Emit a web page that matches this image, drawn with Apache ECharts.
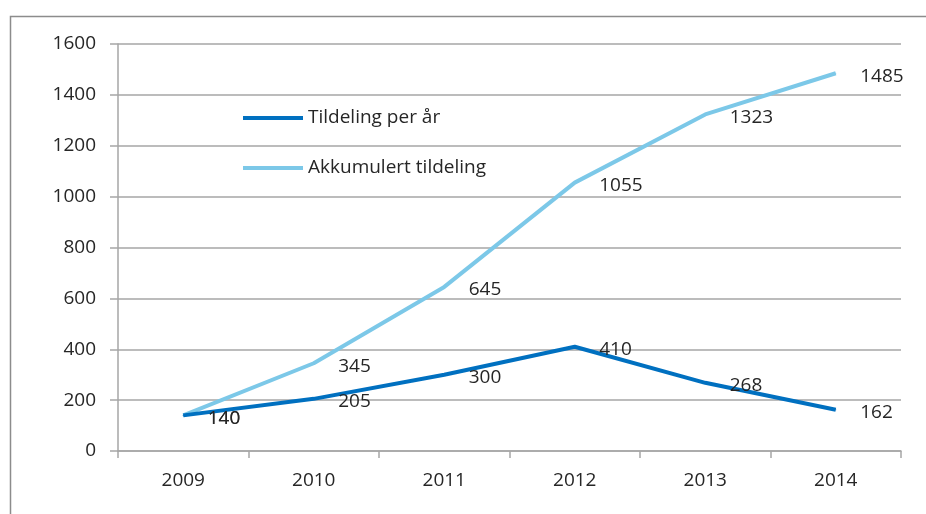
<!DOCTYPE html>
<html>
<head>
<meta charset="utf-8">
<script src="https://cdn.jsdelivr.net/npm/echarts@6/dist/echarts.min.js"></script>
<style>
  html, body { margin: 0; padding: 0; background: #fff; }
  #chart { width: 926px; height: 514px; }
</style>
</head>
<body>
<div id="chart"></div>
<script>
// Data
const years = ['2009', '2010', '2011', '2012', '2013', '2014'];
const perYear = [140, 205, 300, 410, 268, 162];
const accumulated = [140, 345, 645, 1055, 1323, 1485];
const seriesNames = ['Tildeling per år', 'Akkumulert tildeling'];
const colors = ['#0070C0', '#7CC8E8'];

const FONT = '"Open Sans", sans-serif';
const TEXT = '#262626';
const GRID = '#A6A6A6';
const FS = 19;

const chart = echarts.init(document.getElementById('chart'));

function lineSeries(i, data) {
  return {
    name: seriesNames[i],
    type: 'line',
    data: data,
    symbol: 'circle',
    symbolSize: 1,
    showSymbol: true,
    itemStyle: { color: colors[i] },
    lineStyle: { color: colors[i], width: 4 },
    label: {
      show: true,
      position: 'right',
      distance: 24,
      offset: [0, 3],
      color: TEXT,
      fontFamily: FONT,
      fontSize: FS,
    },
    z: i === 0 ? 3 : 2,
  };
}

chart.setOption({
  animation: false,
  backgroundColor: '#fff',
  graphic: [{
    type: 'rect',
    left: 8,
    top: 14,
    shape: { width: 940, height: 520 },
    style: { fill: 'none', stroke: '#8C8C8C', lineWidth: 1.5 },
    silent: true,
  }],
  grid: { left: 118, right: 25, top: 44, bottom: 63 },
  legend: {
    orient: 'vertical',
    left: 238,
    top: 102,
    itemWidth: 60,
    itemHeight: 4,
    itemGap: 28,
    icon: 'rect',
    textStyle: { color: TEXT, fontFamily: FONT, fontSize: FS, lineHeight: 22 },
    data: seriesNames,
  },
  xAxis: {
    type: 'category',
    data: years,
    boundaryGap: true,
    axisLine: { lineStyle: { color: GRID, width: 1.5 } },
    axisTick: { show: true, length: 7, lineStyle: { color: GRID, width: 1.5 } },
    axisLabel: { color: TEXT, fontFamily: FONT, fontSize: FS, margin: 20 },
  },
  yAxis: {
    type: 'value',
    min: 0,
    max: 1600,
    interval: 200,
    axisLine: { show: true, lineStyle: { color: GRID, width: 1.5 } },
    axisTick: { show: true, inside: false, length: 8, lineStyle: { color: GRID, width: 1.5 } },
    splitLine: { lineStyle: { color: GRID, width: 1.5 } },
    axisLabel: { color: TEXT, fontFamily: FONT, fontSize: FS, margin: 22, formatter: (v) => String(v) },
  },
  series: [
    lineSeries(0, perYear),
    lineSeries(1, accumulated),
  ],
});
</script>
</body>
</html>
